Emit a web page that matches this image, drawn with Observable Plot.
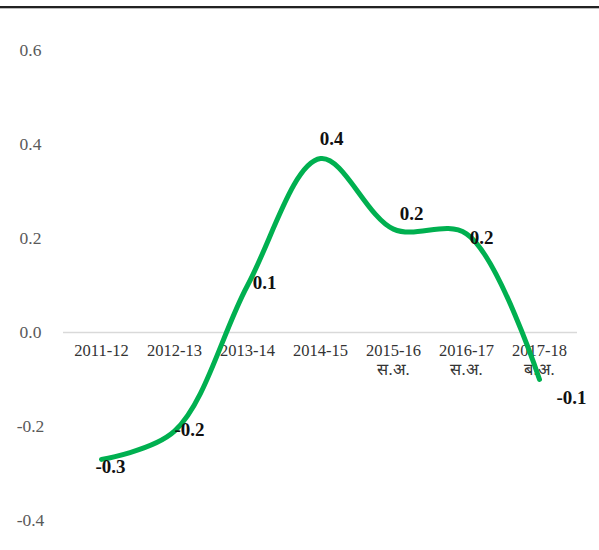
<!DOCTYPE html>
<html><head><meta charset="utf-8">
<script src="https://cdn.jsdelivr.net/npm/d3@7"></script>
<script src="https://cdn.jsdelivr.net/npm/@observablehq/plot@0.6"></script>
<style>
body{margin:0;background:#fff;}
#wrap{position:relative;width:599px;height:550px;}
#rule{position:absolute;left:0;top:6px;width:599px;height:2px;background:#222;border-bottom:1px solid #bbb;}
</style></head>
<body><div id="wrap"><div id="rule"></div></div>
<script>
const years = ["2011-12","2012-13","2013-14","2014-15","2015-16","2016-17","2017-18"];
const subLabels = ["","","","","स.अ.","स.अ.","ब.अ."];
const values = [-0.27,-0.21,0.10,0.37,0.22,0.21,-0.10];
const yTicks = [-0.4,-0.2,0.0,0.2,0.4,0.6];
// label offsets (style)
const labelOffsets = [[9,8],[15,-1],[17,-3],[11,-20],[18,-15],[15,4],[32,18]];

const data = years.map((y,i)=>({year:y, value:values[i], label:y+(subLabels[i]?"\n"+subLabels[i]:"")}));

const serif = "'Liberation Serif', 'Times New Roman', serif";
const plot = Plot.plot({
  width:599, height:550,
  marginLeft:63, marginRight:22, marginTop:50, marginBottom:30,
  style:{fontFamily:serif, background:"transparent"},
  x:{type:"point", domain:years, padding:0.5, axis:null},
  y:{domain:[-0.4,0.6], ticks:yTicks, tickFormat:d=>d.toFixed(1)},
  marks:[
    Plot.ruleY([0],{stroke:"#d9d9d9", strokeWidth:1.3}),
    Plot.axisY({ticks:yTicks, tickFormat:d=>d.toFixed(1), tickSize:0, tickPadding:33, textAnchor:"middle", fontSize:17.5, fill:"#595959", label:null}),
    Plot.text(data,{x:"year", y:()=>0, text:"label", dy:11, lineAnchor:"top", fontSize:16.5, fill:"#333", lineHeight:1.1}),
    Plot.line(data,{x:"year", y:"value", stroke:"#00B050", strokeWidth:5, curve:"catmull-rom"}),
    ...data.map((d,i)=>Plot.text([d],{x:"year", y:"value", text:d=>d.value.toFixed(1), dx:labelOffsets[i][0], dy:labelOffsets[i][1], fontWeight:"bold", fontSize:19, fill:"#111"}))
  ]
});
document.getElementById("wrap").appendChild(plot);
plot.style.position="absolute"; plot.style.left="0"; plot.style.top="0";
</script></body></html>
